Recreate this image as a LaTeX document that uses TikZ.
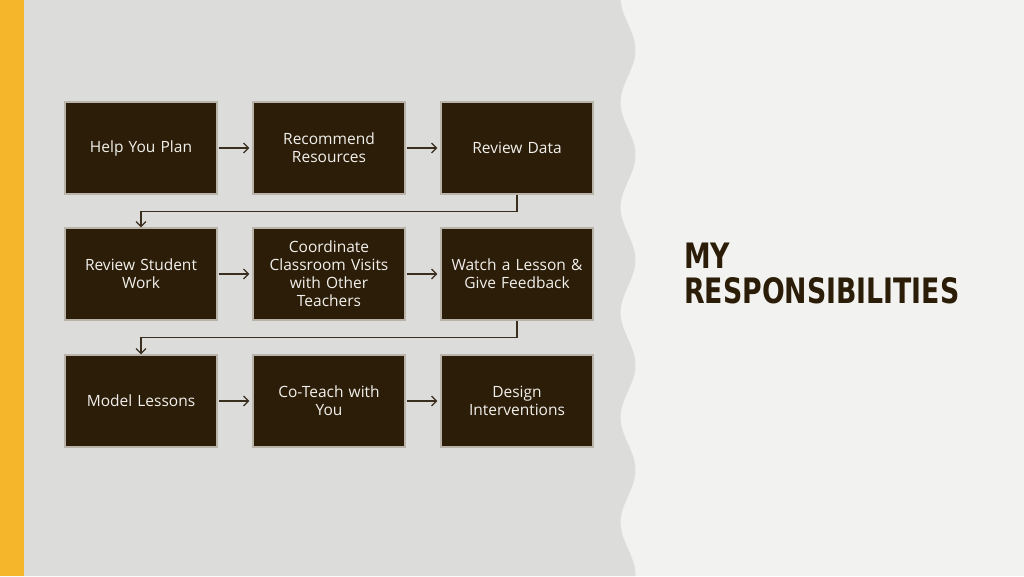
\documentclass[tikz,border=0pt]{standalone}
\usepackage{fontspec}
\setmainfont{Open Sans}
\newfontfamily\titlefont{DejaVu Sans Condensed}
\usetikzlibrary{arrows.meta}

\definecolor{pagebg}{HTML}{F2F2F0}
\definecolor{panelbg}{HTML}{DCDCDA}
\definecolor{sidebar}{HTML}{F6B62B}
\definecolor{boxfill}{HTML}{2B1D08}
\definecolor{boxline}{HTML}{B9B3A9}
\definecolor{boxtext}{HTML}{F2F0EC}
\definecolor{linkcol}{HTML}{3A2E1E}

\newcommand{\narrow}[1]{\scalebox{0.85}[1]{#1}}

\begin{document}
\begin{tikzpicture}[x=1pt,y=-1pt,
        task/.style={draw=boxline,line width=1.2pt,fill=boxfill,text=boxtext,
            minimum width=152pt,minimum height=92pt,inner sep=2pt,
            text width=146pt,align=center,font=\fontsize{15.5}{18}\selectfont},
        flow/.style={-{Straight Barb[length=5pt,width=10pt]},line width=1.2pt,draw=linkcol,
            shorten <=1pt,shorten >=3pt},
        wrap/.style={-{Straight Barb[length=5pt,width=10pt]},line width=1.2pt,draw=linkcol}]

    % background
    \useasboundingbox (0,0) rectangle (1024,576);
    \fill[pagebg] (0,0) rectangle (1024,576);
    \fill[panelbg] (0,0) -- plot[domain=0:576,samples=120]
        ({628+7.5*cos(3.4286*(\x-50))},\x) -- (0,576) -- cycle;
    \fill[sidebar] (0,0) rectangle (24,576);

    % boxes
    \node[task] (help) at (141,148) {Help You Plan};
    \node[task] (recommend) at (329,148) {Recommend\\Resources};
    \node[task] (reviewdata) at (517,148) {Review Data};

    \node[task] (studentwork) at (141,274) {Review Student\\Work};
    \node[task] (visits) at (329,274) {Coordinate\\Classroom Visits\\with Other\\Teachers};
    \node[task] (watch) at (517,274) {Watch a Lesson \&\\Give Feedback};

    \node[task] (model) at (141,401) {Model Lessons};
    \node[task] (coteach) at (329,401) {Co-Teach with\\You};
    \node[task] (design) at (517,401) {Design\\Interventions};

    % links
    \draw[flow] (help) -- (recommend);
    \draw[flow] (recommend) -- (reviewdata);
    \draw[wrap] (reviewdata.south) -- ++(0,17) -| (studentwork.north);
    \draw[flow] (studentwork) -- (visits);
    \draw[flow] (visits) -- (watch);
    \draw[wrap] (watch.south) -- ++(0,17) -| (model.north);
    \draw[flow] (model) -- (coteach);
    \draw[flow] (coteach) -- (design);

    % title
    \node[anchor=west,align=left,text=boxfill,inner sep=0pt,
        font=\titlefont\bfseries\fontsize{35}{35}\selectfont] (title) at (684,273)
        {\narrow{MY}\\\narrow{RESPONSIBILITIES}};
\end{tikzpicture}
\end{document}
